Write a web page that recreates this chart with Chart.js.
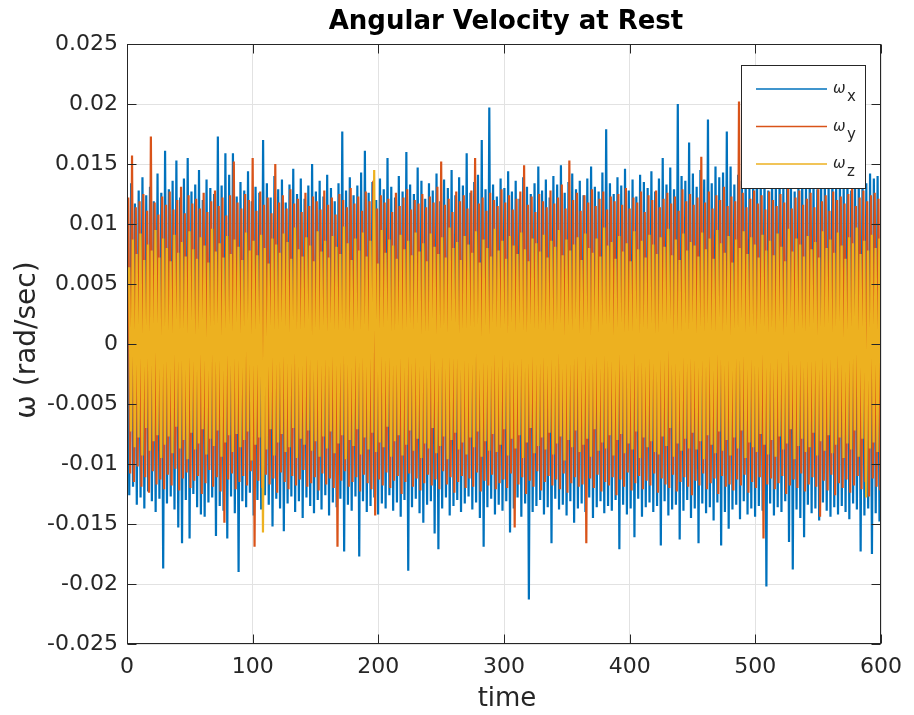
<!DOCTYPE html>
<html>
<head>
<meta charset="utf-8">
<title>Angular Velocity at Rest</title>
<script src="https://cdn.jsdelivr.net/npm/chart.js@4.4.1/dist/chart.umd.min.js"></script>
<style>
  html, body { margin: 0; padding: 0; background: #fff; }
  #wrap { width: 914px; height: 715px; }
</style>
</head>
<body>
<div id="wrap"><canvas id="gyroChart" width="914" height="715"></canvas></div>
<script>
// time axis (s) and tick labels
const timeRange = [0, 600];
const xTicks = [0, 100, 200, 300, 400, 500, 600];
const yTickLabels = ['-0.025', '-0.02', '-0.015', '-0.01', '-0.005', '0', '0.005', '0.01', '0.015', '0.02', '0.025'];
const sampleStep = 1.5; // s between a window's high and low sample

const seriesNames = ['x', 'y', 'z'];
const seriesColors = ['#0072BD', '#D95319', '#EDB120'];

// gyro readings (rad/sec): high and low sample of every 3 s window
const wxPeaks = [
  0.0121, 0.0134, 0.0117, 0.0128, 0.0139, 0.0124, 0.0131, 0.0119, 0.0142, 0.0126,
  0.0161, 0.0129, 0.0136, 0.0153, 0.0122, 0.0138, 0.0155, 0.0127, 0.0133, 0.0145,
  0.0120, 0.0137, 0.0130, 0.0125, 0.0173, 0.0132, 0.0159, 0.0141, 0.0159, 0.0123,
  0.0135, 0.0128, 0.0144, 0.0119, 0.0131, 0.0126, 0.0170, 0.0134, 0.0122, 0.0140,
  0.0129, 0.0137, 0.0118, 0.0133, 0.0146, 0.0125, 0.0138, 0.0121, 0.0132, 0.0150,
  0.0127, 0.0136, 0.0123, 0.0141, 0.0130, 0.0119, 0.0134, 0.0177, 0.0128, 0.0139,
  0.0124, 0.0132, 0.0143, 0.0161, 0.0126, 0.0135, 0.0120, 0.0138, 0.0129, 0.0155,
  0.0131, 0.0122, 0.0140, 0.0127, 0.0160, 0.0133, 0.0125, 0.0147, 0.0136, 0.0121,
  0.0134, 0.0128, 0.0142, 0.0119, 0.0137, 0.0130, 0.0145, 0.0124, 0.0139, 0.0132,
  0.0159, 0.0126, 0.0135, 0.0141, 0.0170, 0.0129, 0.0197, 0.0133, 0.0123, 0.0138,
  0.0130, 0.0144, 0.0127, 0.0136, 0.0121, 0.0139, 0.0131, 0.0125, 0.0134, 0.0148,
  0.0128, 0.0137, 0.0122, 0.0140, 0.0133, 0.0149, 0.0126, 0.0135, 0.0142, 0.0129,
  0.0136, 0.0124, 0.0138, 0.0148, 0.0131, 0.0127, 0.0143, 0.0179, 0.0134, 0.0125,
  0.0139, 0.0132, 0.0146, 0.0128, 0.0137, 0.0123, 0.0141, 0.0135, 0.0130, 0.0144,
  0.0127, 0.0138, 0.0155, 0.0133, 0.0147, 0.0129, 0.0200, 0.0140, 0.0136, 0.0168,
  0.0142, 0.0131, 0.0145, 0.0137, 0.0187, 0.0134, 0.0148, 0.0139, 0.0143, 0.0177,
  0.0148, 0.0133, 0.0141, 0.0136, 0.0146, 0.0130, 0.0139, 0.0144, 0.0135, 0.0142,
  0.0128, 0.0140, 0.0134, 0.0145, 0.0131, 0.0138, 0.0143, 0.0127, 0.0137, 0.0146,
  0.0132, 0.0141, 0.0136, 0.0129, 0.0144, 0.0138, 0.0133, 0.0147, 0.0130, 0.0139,
  0.0135, 0.0143, 0.0128, 0.0140, 0.0137, 0.0145, 0.0134, 0.0142, 0.0138, 0.0140
];
const wxTroughs = [
  -0.0126, -0.0119, -0.0134, -0.0128, -0.0137, -0.0123, -0.0131, -0.0140, -0.0129, -0.0187,
  -0.0133, -0.0127, -0.0138, -0.0153, -0.0166, -0.0130, -0.0162, -0.0125, -0.0136, -0.0142,
  -0.0144, -0.0132, -0.0128, -0.0160, -0.0135, -0.0139, -0.0162, -0.0127, -0.0141, -0.0190,
  -0.0131, -0.0136, -0.0124, -0.0143, -0.0130, -0.0138, -0.0126, -0.0134, -0.0152, -0.0129,
  -0.0137, -0.0156, -0.0133, -0.0127, -0.0140, -0.0131, -0.0145, -0.0128, -0.0135, -0.0141,
  -0.0130, -0.0138, -0.0126, -0.0143, -0.0132, -0.0136, -0.0129, -0.0173, -0.0134, -0.0139,
  -0.0127, -0.0177, -0.0131, -0.0140, -0.0135, -0.0128, -0.0142, -0.0133, -0.0137, -0.0126,
  -0.0139, -0.0132, -0.0144, -0.0130, -0.0189, -0.0136, -0.0129, -0.0141, -0.0149, -0.0134,
  -0.0131, -0.0158, -0.0171, -0.0137, -0.0128, -0.0143, -0.0135, -0.0130, -0.0140, -0.0133,
  -0.0127, -0.0138, -0.0132, -0.0145, -0.0169, -0.0136, -0.0129, -0.0142, -0.0134, -0.0139,
  -0.0131, -0.0157, -0.0137, -0.0128, -0.0144, -0.0133, -0.0213, -0.0140, -0.0135, -0.0130,
  -0.0142, -0.0136, -0.0166, -0.0129, -0.0138, -0.0134, -0.0143, -0.0131, -0.0149, -0.0137,
  -0.0133, -0.0140, -0.0128, -0.0145, -0.0136, -0.0131, -0.0141, -0.0135, -0.0139, -0.0130,
  -0.0171, -0.0134, -0.0142, -0.0137, -0.0161, -0.0129, -0.0144, -0.0136, -0.0132, -0.0140,
  -0.0135, -0.0168, -0.0131, -0.0143, -0.0138, -0.0134, -0.0163, -0.0139, -0.0130, -0.0145,
  -0.0137, -0.0166, -0.0133, -0.0141, -0.0136, -0.0147, -0.0132, -0.0168, -0.0140, -0.0154,
  -0.0138, -0.0134, -0.0146, -0.0131, -0.0142, -0.0137, -0.0144, -0.0135, -0.0139, -0.0202,
  -0.0133, -0.0143, -0.0136, -0.0140, -0.0131, -0.0165, -0.0188, -0.0138, -0.0145, -0.0161,
  -0.0134, -0.0141, -0.0137, -0.0147, -0.0132, -0.0139, -0.0144, -0.0136, -0.0142, -0.0135,
  -0.0140, -0.0146, -0.0133, -0.0138, -0.0173, -0.0143, -0.0137, -0.0175, -0.0141, -0.0148
];
const wyPeaks = [
  0.0122, 0.0157, 0.0114, 0.0119, 0.0125, 0.0111, 0.0173, 0.0118, 0.0108, 0.0123,
  0.0116, 0.0127, 0.0112, 0.0120, 0.0131, 0.0109, 0.0124, 0.0117, 0.0121, 0.0113,
  0.0126, 0.0110, 0.0119, 0.0128, 0.0115, 0.0122, 0.0107, 0.0124, 0.0152, 0.0118,
  0.0113, 0.0125, 0.0120, 0.0155, 0.0111, 0.0127, 0.0116, 0.0122, 0.0109, 0.0150,
  0.0118, 0.0124, 0.0113, 0.0129, 0.0117, 0.0121, 0.0110, 0.0126, 0.0115, 0.0123,
  0.0119, 0.0112, 0.0128, 0.0116, 0.0122, 0.0108, 0.0125, 0.0120, 0.0114, 0.0130,
  0.0117, 0.0123, 0.0111, 0.0127, 0.0119, 0.0136, 0.0113, 0.0124, 0.0118, 0.0121,
  0.0110, 0.0126, 0.0115, 0.0122, 0.0129, 0.0112, 0.0120, 0.0117, 0.0125, 0.0114,
  0.0123, 0.0118, 0.0131, 0.0152, 0.0116, 0.0121, 0.0110, 0.0127, 0.0119, 0.0124,
  0.0113, 0.0128, 0.0155, 0.0117, 0.0122, 0.0111, 0.0126, 0.0120, 0.0115, 0.0129,
  0.0118, 0.0124, 0.0112, 0.0121, 0.0127, 0.0149, 0.0116, 0.0123, 0.0110, 0.0125,
  0.0119, 0.0114, 0.0128, 0.0117, 0.0122, 0.0133, 0.0113, 0.0153, 0.0120, 0.0126,
  0.0111, 0.0124, 0.0118, 0.0129, 0.0115, 0.0121, 0.0127, 0.0112, 0.0123, 0.0119,
  0.0125, 0.0116, 0.0130, 0.0113, 0.0122, 0.0118, 0.0127, 0.0110, 0.0124, 0.0120,
  0.0128, 0.0114, 0.0121, 0.0126, 0.0117, 0.0123, 0.0111, 0.0129, 0.0119, 0.0125,
  0.0116, 0.0122, 0.0156, 0.0118, 0.0127, 0.0113, 0.0124, 0.0120, 0.0131, 0.0115,
  0.0123, 0.0119, 0.0202, 0.0126, 0.0114, 0.0121, 0.0128, 0.0117, 0.0124, 0.0112,
  0.0127, 0.0120, 0.0115, 0.0125, 0.0118, 0.0130, 0.0113, 0.0122, 0.0128, 0.0116,
  0.0121, 0.0126, 0.0114, 0.0129, 0.0119, 0.0124, 0.0111, 0.0127, 0.0120, 0.0123,
  0.0117, 0.0125, 0.0130, 0.0115, 0.0122, 0.0128, 0.0119, 0.0124, 0.0126, 0.0121
];
const wyTroughs = [
  -0.0108, -0.0115, -0.0102, -0.0119, -0.0111, -0.0124, -0.0106, -0.0117, -0.0113, -0.0121,
  -0.0109, -0.0118, -0.0104, -0.0122, -0.0112, -0.0107, -0.0120, -0.0114, -0.0110, -0.0125,
  -0.0116, -0.0105, -0.0119, -0.0111, -0.0123, -0.0149, -0.0113, -0.0108, -0.0121, -0.0115,
  -0.0110, -0.0118, -0.0106, -0.0169, -0.0114, -0.0120, -0.0109, -0.0117, -0.0112, -0.0124,
  -0.0107, -0.0115, -0.0121, -0.0110, -0.0118, -0.0113, -0.0105, -0.0119, -0.0116, -0.0111,
  -0.0122, -0.0108, -0.0117, -0.0112, -0.0120, -0.0169, -0.0114, -0.0106, -0.0119, -0.0115,
  -0.0111, -0.0123, -0.0109, -0.0116, -0.0121, -0.0143, -0.0113, -0.0118, -0.0107, -0.0120,
  -0.0114, -0.0110, -0.0125, -0.0115, -0.0108, -0.0119, -0.0112, -0.0122, -0.0116, -0.0109,
  -0.0118, -0.0113, -0.0121, -0.0106, -0.0117, -0.0111, -0.0124, -0.0115, -0.0110, -0.0120,
  -0.0112, -0.0119, -0.0107, -0.0123, -0.0114, -0.0118, -0.0109, -0.0121, -0.0116, -0.0113,
  -0.0120, -0.0108, -0.0153, -0.0117, -0.0111, -0.0125, -0.0114, -0.0119, -0.0106, -0.0122,
  -0.0115, -0.0110, -0.0118, -0.0113, -0.0121, -0.0108, -0.0124, -0.0116, -0.0111, -0.0119,
  -0.0117, -0.0166, -0.0112, -0.0120, -0.0109, -0.0123, -0.0115, -0.0118, -0.0111, -0.0126,
  -0.0113, -0.0119, -0.0107, -0.0122, -0.0116, -0.0110, -0.0121, -0.0114, -0.0118, -0.0108,
  -0.0124, -0.0112, -0.0117, -0.0120, -0.0109, -0.0123, -0.0115, -0.0111, -0.0119, -0.0126,
  -0.0114, -0.0118, -0.0108, -0.0121, -0.0116, -0.0112, -0.0125, -0.0110, -0.0119, -0.0117,
  -0.0122, -0.0113, -0.0118, -0.0109, -0.0124, -0.0115, -0.0120, -0.0111, -0.0162, -0.0117,
  -0.0112, -0.0121, -0.0116, -0.0110, -0.0125, -0.0118, -0.0113, -0.0120, -0.0108, -0.0123,
  -0.0117, -0.0111, -0.0119, -0.0144, -0.0114, -0.0122, -0.0109, -0.0126, -0.0116, -0.0120,
  -0.0113, -0.0124, -0.0118, -0.0110, -0.0121, -0.0115, -0.0127, -0.0112, -0.0119, -0.0122
];
const wzPeaks = [
  0.0064, 0.0087, 0.0075, 0.0092, 0.0070, 0.0083, 0.0078, 0.0095, 0.0072, 0.0088,
  0.0080, 0.0069, 0.0091, 0.0076, 0.0085, 0.0073, 0.0094, 0.0079, 0.0071, 0.0089,
  0.0082, 0.0068, 0.0096, 0.0077, 0.0084, 0.0072, 0.0090, 0.0075, 0.0087, 0.0081,
  0.0070, 0.0093, 0.0078, 0.0086, 0.0074, 0.0091, 0.0080, 0.0067, 0.0088, 0.0083,
  0.0076, 0.0092, 0.0085, 0.0071, 0.0097, 0.0079, 0.0073, 0.0089, 0.0082, 0.0069,
  0.0094, 0.0077, 0.0086, 0.0072, 0.0090, 0.0081, 0.0075, 0.0098, 0.0084, 0.0070,
  0.0088, 0.0078, 0.0093, 0.0073, 0.0086, 0.0145, 0.0067, 0.0095, 0.0076, 0.0087,
  0.0082, 0.0071, 0.0091, 0.0079, 0.0086, 0.0074, 0.0093, 0.0077, 0.0084, 0.0069,
  0.0092, 0.0081, 0.0075, 0.0089, 0.0072, 0.0097, 0.0080, 0.0085, 0.0070, 0.0090,
  0.0083, 0.0076, 0.0094, 0.0068, 0.0087, 0.0080, 0.0073, 0.0096, 0.0078, 0.0086,
  0.0071, 0.0090, 0.0082, 0.0075, 0.0093, 0.0079, 0.0069, 0.0088, 0.0084, 0.0077,
  0.0091, 0.0072, 0.0086, 0.0081, 0.0095, 0.0074, 0.0087, 0.0078, 0.0083, 0.0089,
  0.0070, 0.0092, 0.0080, 0.0076, 0.0088, 0.0073, 0.0097, 0.0082, 0.0085, 0.0071,
  0.0090, 0.0077, 0.0084, 0.0069, 0.0094, 0.0079, 0.0086, 0.0072, 0.0091, 0.0083,
  0.0075, 0.0089, 0.0081, 0.0096, 0.0074, 0.0087, 0.0070, 0.0092, 0.0078, 0.0085,
  0.0082, 0.0073, 0.0093, 0.0079, 0.0088, 0.0071, 0.0095, 0.0084, 0.0076, 0.0090,
  0.0068, 0.0087, 0.0080, 0.0094, 0.0075, 0.0089, 0.0083, 0.0072, 0.0091, 0.0078,
  0.0086, 0.0074, 0.0092, 0.0081, 0.0069, 0.0096, 0.0077, 0.0088, 0.0083, 0.0073,
  0.0090, 0.0079, 0.0085, 0.0072, 0.0094, 0.0080, 0.0087, 0.0076, 0.0093, 0.0082,
  0.0071, 0.0089, 0.0084, 0.0097, 0.0075, 0.0086, 0.0078, 0.0091, 0.0080, 0.0088
];
const wzTroughs = [
  -0.0073, -0.0086, -0.0078, -0.0093, -0.0070, -0.0089, -0.0081, -0.0076, -0.0095, -0.0084,
  -0.0077, -0.0091, -0.0069, -0.0087, -0.0080, -0.0096, -0.0074, -0.0088, -0.0083, -0.0071,
  -0.0092, -0.0079, -0.0085, -0.0072, -0.0094, -0.0082, -0.0076, -0.0090, -0.0075, -0.0086,
  -0.0080, -0.0073, -0.0097, -0.0084, -0.0078, -0.0157, -0.0088, -0.0071, -0.0093, -0.0082,
  -0.0075, -0.0090, -0.0086, -0.0070, -0.0095, -0.0079, -0.0084, -0.0072, -0.0089, -0.0081,
  -0.0094, -0.0077, -0.0087, -0.0073, -0.0091, -0.0083, -0.0076, -0.0096, -0.0080, -0.0085,
  -0.0071, -0.0092, -0.0078, -0.0088, -0.0074, -0.0090, -0.0082, -0.0086, -0.0069, -0.0094,
  -0.0081, -0.0076, -0.0093, -0.0084, -0.0072, -0.0089, -0.0079, -0.0095, -0.0083, -0.0087,
  -0.0070, -0.0091, -0.0085, -0.0077, -0.0096, -0.0080, -0.0074, -0.0088, -0.0082, -0.0092,
  -0.0078, -0.0086, -0.0073, -0.0094, -0.0081, -0.0089, -0.0075, -0.0090, -0.0084, -0.0071,
  -0.0093, -0.0079, -0.0087, -0.0076, -0.0095, -0.0082, -0.0070, -0.0091, -0.0085, -0.0078,
  -0.0088, -0.0074, -0.0092, -0.0083, -0.0077, -0.0097, -0.0080, -0.0086, -0.0072, -0.0090,
  -0.0084, -0.0079, -0.0094, -0.0071, -0.0089, -0.0082, -0.0087, -0.0076, -0.0093, -0.0080,
  -0.0075, -0.0091, -0.0083, -0.0088, -0.0073, -0.0095, -0.0078, -0.0086, -0.0081, -0.0090,
  -0.0092, -0.0077, -0.0085, -0.0070, -0.0094, -0.0083, -0.0089, -0.0079, -0.0087, -0.0074,
  -0.0088, -0.0081, -0.0096, -0.0076, -0.0084, -0.0091, -0.0073, -0.0089, -0.0080, -0.0093,
  -0.0078, -0.0087, -0.0072, -0.0095, -0.0082, -0.0086, -0.0090, -0.0075, -0.0084, -0.0092,
  -0.0080, -0.0094, -0.0077, -0.0088, -0.0083, -0.0071, -0.0096, -0.0085, -0.0079, -0.0090,
  -0.0086, -0.0074, -0.0093, -0.0081, -0.0089, -0.0076, -0.0091, -0.0084, -0.0078, -0.0095,
  -0.0083, -0.0088, -0.0072, -0.0094, -0.0079, -0.0128, -0.0087, -0.0082, -0.0090, -0.0085
];

// interleave each window's high and low into one time series
function buildSeries(peaks, troughs, phase) {
  const pts = [];
  peaks.forEach((p, i) => {
    const t0 = i * 2 * sampleStep + phase;
    pts.push({ x: t0, y: p });
    pts.push({ x: t0 + sampleStep, y: troughs[i] });
  });
  return pts;
}

const seriesData = [
  buildSeries(wxPeaks, wxTroughs, 0.3),
  buildSeries(wyPeaks, wyTroughs, 1.0),
  buildSeries(wzPeaks, wzTroughs, 1.7)
];

const FONT = 'DejaVu Sans';
const INK = '#262626';

// box with inward ticks, legend, title and axis labels
const matlabAxes = {
  id: 'matlabAxes',
  afterDatasetsDraw(chart) {
    const { ctx, chartArea: a, scales: { x, y } } = chart;
    ctx.save();
    ctx.strokeStyle = INK;
    ctx.lineWidth = 1;
    const L = Math.round(a.left) + 0.5, R = Math.round(a.right) - 0.5;
    const T = Math.round(a.top) + 0.5, B = Math.round(a.bottom) - 0.5;
    ctx.strokeRect(L, T, R - L, B - T);
    const tl = 9;
    ctx.beginPath();
    xTicks.forEach(v => {
      const px = Math.round(x.getPixelForValue(v)) + 0.5;
      ctx.moveTo(px, B); ctx.lineTo(px, B - tl);
      ctx.moveTo(px, T); ctx.lineTo(px, T + tl);
    });
    yTickLabels.forEach(s => {
      const py = Math.round(y.getPixelForValue(parseFloat(s))) + 0.5;
      ctx.moveTo(L, py); ctx.lineTo(L + tl, py);
      ctx.moveTo(R, py); ctx.lineTo(R - tl, py);
    });
    ctx.stroke();

    // legend box
    const lx = 741, ly = 65, lw = 124, lh = 123;
    ctx.fillStyle = '#fff';
    ctx.fillRect(lx, ly, lw, lh);
    ctx.strokeRect(lx + 0.5, ly + 0.5, lw, lh);
    seriesNames.forEach((n, i) => {
      const yy = 89 + i * 37.5;
      ctx.strokeStyle = seriesColors[i];
      ctx.lineWidth = 1.5;
      ctx.beginPath();
      ctx.moveTo(756, yy); ctx.lineTo(827, yy);
      ctx.stroke();
      ctx.fillStyle = INK;
      ctx.textBaseline = 'alphabetic';
      ctx.textAlign = 'left';
      ctx.font = `italic 15px ${FONT}`;
      ctx.fillText('ω', 833, yy + 4);
      ctx.font = `15px ${FONT}`;
      ctx.fillText(n, 847, yy + 12);
    });
    ctx.restore();
  },
  afterDraw(chart) {
    const { ctx, chartArea: a } = chart;
    const cx = (a.left + a.right) / 2;
    ctx.save();
    ctx.fillStyle = '#000';
    ctx.textAlign = 'center';
    ctx.textBaseline = 'middle';
    ctx.font = `bold 26px ${FONT}`;
    ctx.fillText('Angular Velocity at Rest', cx + 2, 22);
    ctx.fillStyle = INK;
    ctx.font = `26px ${FONT}`;
    ctx.fillText('time', cx + 3, 699);
    ctx.translate(28, (a.top + a.bottom) / 2 - 4);
    ctx.rotate(-Math.PI / 2);
    ctx.font = `28px ${FONT}`;
    ctx.fillText('ω (rad/sec)', 0, 0);
    ctx.restore();
  }
};

Chart.defaults.font.family = FONT;
Chart.defaults.color = INK;

new Chart(document.getElementById('gyroChart'), {
  type: 'line',
  data: {
    datasets: seriesData.map((pts, i) => ({
      label: 'ω' + seriesNames[i],
      data: pts,
      borderColor: seriesColors[i],
      borderWidth: 2.2,
      borderJoinStyle: 'bevel',
      pointRadius: 0,
      tension: 0,
      order: 3 - i
    }))
  },
  options: {
    responsive: false,
    animation: false,
    parsing: false,
    normalized: true,
    layout: { padding: { left: 0, top: 44, right: 33, bottom: 0 } },
    plugins: { legend: { display: false }, title: { display: false }, tooltip: { enabled: false } },
    scales: {
      x: {
        type: 'linear',
        min: timeRange[0],
        max: timeRange[1],
        afterFit: s => { s.height = 71; },
        afterBuildTicks: s => { s.ticks = xTicks.map(v => ({ value: v })); },
        ticks: { font: { size: 22 }, padding: 10, maxRotation: 0, callback: v => String(v) },
        grid: { color: '#e2e2e2', drawTicks: false },
        border: { display: false }
      },
      y: {
        type: 'linear',
        min: -0.025,
        max: 0.025,
        afterFit: s => { s.width = 127; },
        afterBuildTicks: s => { s.ticks = yTickLabels.map(t => ({ value: parseFloat(t) })); },
        ticks: { font: { size: 22 }, padding: 9, callback: (v, i) => yTickLabels[i] },
        grid: { color: '#e2e2e2', drawTicks: false },
        border: { display: false }
      }
    }
  },
  plugins: [matlabAxes]
});
</script>
</body>
</html>
